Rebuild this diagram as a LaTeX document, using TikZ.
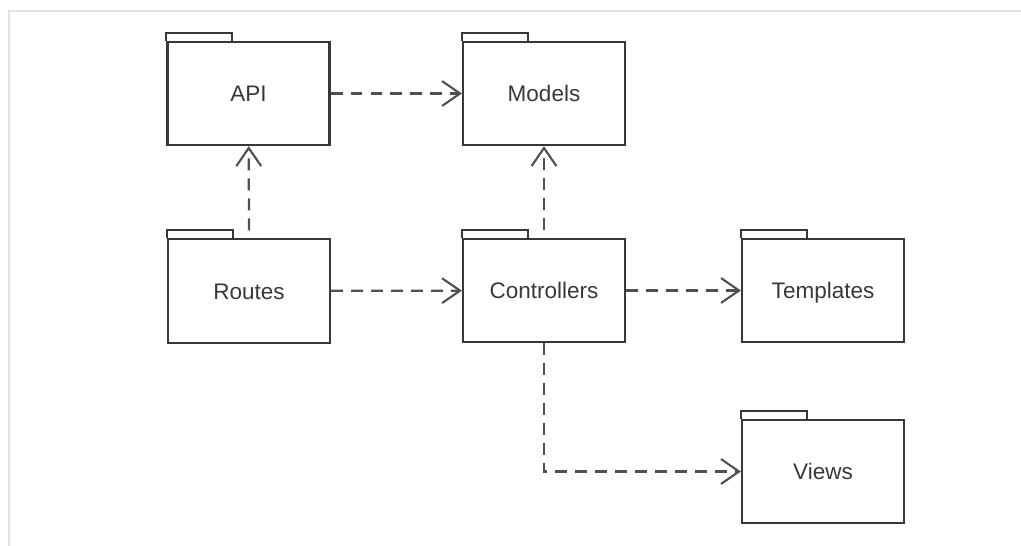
\documentclass[tikz,border=0pt]{standalone}
\usepackage{fontspec}
\setmainfont{Liberation Sans}
\usetikzlibrary{arrows.meta}

\definecolor{linea}{HTML}{383838}
\definecolor{tratto}{HTML}{505050}
\definecolor{cornice}{HTML}{E2E2E2}

\tikzset{
    pacchetto/.style={draw=linea, line width=1.5pt, minimum width=4.05cm, minimum height=2.58cm,
        inner sep=0pt, text=linea, text height=11.5pt, text depth=0pt,
        font=\fontsize{16}{19}\selectfont},
    dipende/.style={draw=tratto, line width=1.6pt, dash pattern=on 8.5pt off 5.7pt,
        -{Straight Barb[length=4.5mm, width=6.2mm, line width=1.5pt]}}
}

\begin{document}
\begin{tikzpicture}[x=0.025cm, y=-0.025cm]

    \useasboundingbox (0,0) rectangle (1021,546);

    % Cornice grigia
    \draw[cornice, line width=1pt] (9,546) -- (9,11) -- (1021,11);

    % Linguetta del pacchetto
    \newcommand{\linguetta}[1]{
        \draw[linea, line width=1.5pt] (#1.north west) -- ++(0,-8) -- ++(66,0) -- ++(0,8);
    }

    % -- Pacchetti --
    \node[pacchetto] (api) at (248.5,93.5) {API};
    \node[pacchetto] (models) at (544,93.5) {Models};
    \node[pacchetto] (routes) at (249,291) {Routes};
    \node[pacchetto] (controllers) at (544,290.5) {Controllers};
    \node[pacchetto] (templates) at (823,290.5) {Templates};
    \node[pacchetto] (views) at (823,471.5) {Views};

    \linguetta{api}
    \linguetta{models}
    \linguetta{routes}
    \linguetta{controllers}
    \linguetta{templates}
    \linguetta{views}

    % -- Dipendenze --
    \draw[dipende] (api) -- (models);
    \draw[dipende] ([yshift=0.2cm]routes.north) -- (api);
    \draw[dipende] (routes) -- (controllers);
    \draw[dipende] ([yshift=0.2cm]controllers.north) -- (models);
    \draw[dipende] (controllers) -- (templates);
    \draw[dipende] (controllers) |- (views);
\end{tikzpicture}
\end{document}
